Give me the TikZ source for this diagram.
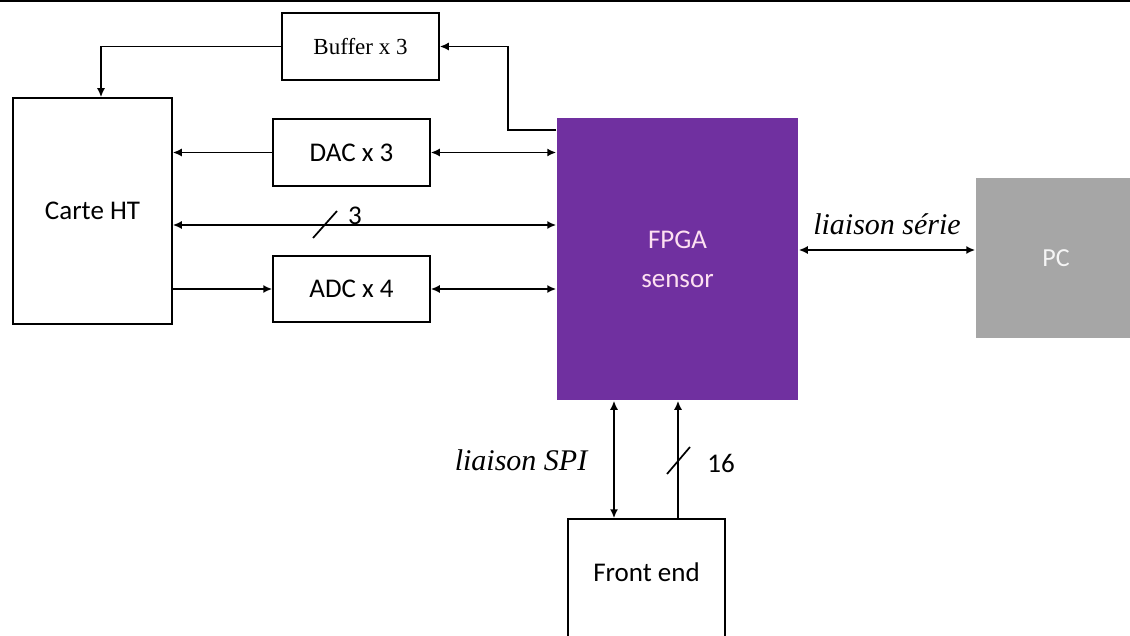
\documentclass[tikz,border=0pt]{standalone}
\usepackage{fontspec}
\setmainfont{Liberation Serif}
\newfontfamily\carl{Carlito}
\usetikzlibrary{arrows.meta,calc}
\definecolor{fpgapurple}{HTML}{7030A0}
\definecolor{pcgray}{HTML}{A6A6A6}
\begin{document}
\begin{tikzpicture}[x=1pt,y=-1pt,
  box/.style={draw, line width=1.5pt, inner sep=0pt, font=\carl\fontsize{27}{30}\selectfont},
  conn/.style={line width=1.7pt},
  tip/.style={-{Latex[length=9pt,width=8pt]}},
  btip/.style={{Latex[length=9pt,width=8pt]}-{Latex[length=9pt,width=8pt]}},
  lbl/.style={font=\carl\fontsize{27}{30}\selectfont, inner sep=0pt},
  ilbl/.style={font=\itshape\fontsize{30}{32}\selectfont, inner sep=0pt}
]
\useasboundingbox (0,0) rectangle (1130,636);
\clip (0,0) rectangle (1130,636);
\draw[line width=2pt] (0,1) -- (1130,1);

\node[box, minimum width=159pt, minimum height=226pt] (carte) at (92.5,211) {Carte HT};
\node[box, minimum width=157pt, minimum height=67pt, font=\fontsize{23}{25}\selectfont] (buffer) at (360.5,46.5) {Buffer x 3};
\node[box, minimum width=157pt, minimum height=67pt] (dac) at (351.5,152.5) {DAC x 3};
\node[box, minimum width=157pt, minimum height=66pt] (adc) at (351.5,289) {ADC x 4};
\node[box, draw=none, fill=fpgapurple, minimum width=241pt, minimum height=282pt, text=white!88!magenta, align=center, font=\carl\fontsize{27}{39}\selectfont] (fpga) at (677.5,259) {FPGA\\sensor};
\node[box, draw=none, fill=pcgray, minimum width=160pt, minimum height=160pt, text=white!92!gray, font=\carl\fontsize{26}{30}\selectfont] (pc) at (1056,258) {PC};
\node[box, minimum width=157pt, minimum height=134pt] (front) at (646.5,586) {};
\node[lbl] (fronttxt) at (646.5,572) {Front end};

% Buffer path
\coordinate (bufA) at (508,130);
\draw[conn, tip] (fpga.west |- bufA) -- (bufA) |- (buffer.east);
\coordinate (bufB) at (101,46.5);
\draw[conn, tip] (buffer.west) -- (bufB) -- (bufB |- carte.north);

% DAC row
\draw[conn, tip] (dac.west) -- (carte.east |- dac.west);
\draw[conn, btip] (dac.east) -- (fpga.west |- dac.east);

% direct bus
\coordinate (busY) at (0,225);
\draw[conn, btip] (carte.east |- busY) -- (fpga.west |- busY);
\coordinate (s3) at (325,225);
\draw[conn] ($(s3)+(-12,13)$) -- ($(s3)+(12,-14)$);
\node[lbl] (n3) at (355,216) {3};

% ADC row
\draw[conn, tip] (carte.east |- adc.west) -- (adc.west);
\draw[conn, btip] (adc.east) -- (fpga.west |- adc.east);

% serial link
\coordinate (serY) at (0,250);
\draw[conn, btip] (fpga.east |- serY) -- (pc.west |- serY);
\node[ilbl] (ser) at (887,224) {liaison série};

% SPI and 16-bit bus
\coordinate (spiX) at (614,0);
\coordinate (busX) at (678,0);
\draw[conn, btip] (spiX |- fpga.south) -- (spiX |- front.north);
\draw[conn, tip] (busX |- front.north) -- (busX |- fpga.south);
\coordinate (s16) at (678,461);
\draw[conn] ($(s16)+(-11,13)$) -- ($(s16)+(12,-14)$);
\node[lbl] (n16) at (721,463) {16};
\node[ilbl] (spi) at (521,460) {liaison SPI};
\end{tikzpicture}
\end{document}
